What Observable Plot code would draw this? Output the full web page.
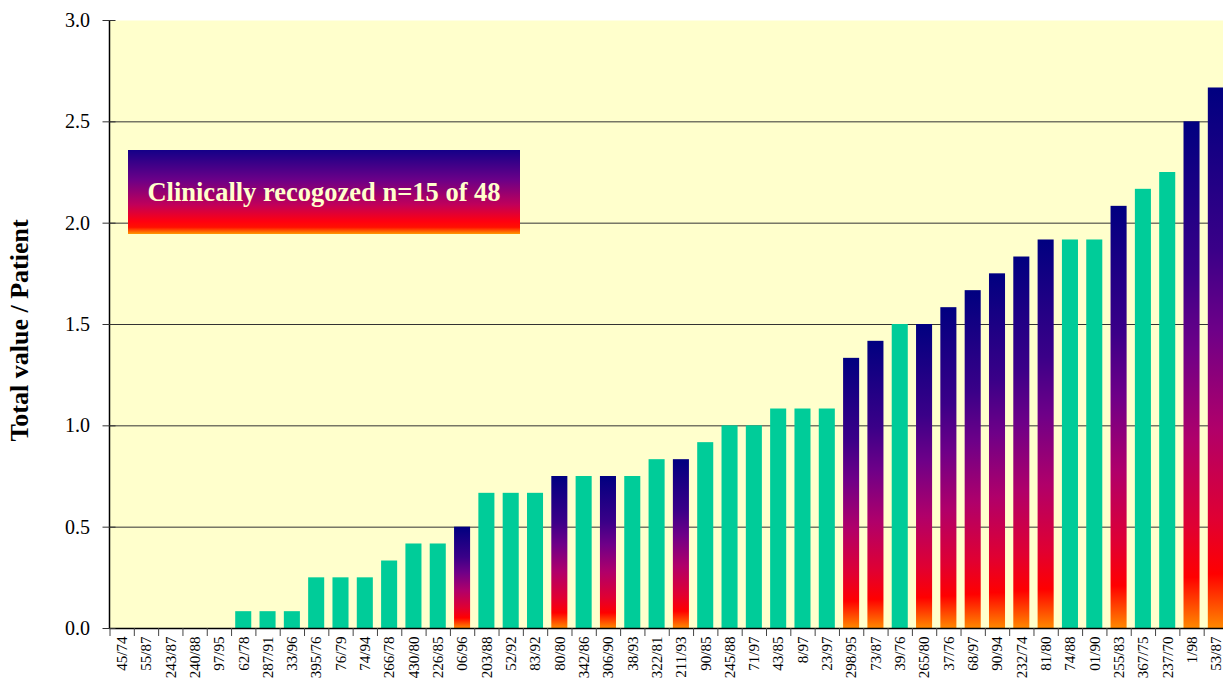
<!DOCTYPE html>
<html><head><meta charset="utf-8">
<script src="https://cdn.jsdelivr.net/npm/d3@7"></script>
<script src="https://cdn.jsdelivr.net/npm/@observablehq/plot@0.6"></script>
<style>
html,body{margin:0;padding:0;background:#fff;overflow:hidden;width:1223px;height:678px}
#wrap{position:relative;width:1228px;height:678px}
#wrap svg{position:absolute;left:0;top:0}
#legend{position:absolute;z-index:2;left:128px;top:150px;width:392px;height:84px;
 background:linear-gradient(to bottom,#140088 0%,#6a0088 35%,#c0005a 65%,#ff0010 85%,#ff1000 92%,#ff9a00 100%);
 display:flex;align-items:center;justify-content:center;color:#FFFFCC;
 font:bold 26.5px "Liberation Serif","Times New Roman",serif;}
</style></head>
<body><div id="wrap"><div id="legend">Clinically recogozed n=15 of 48</div></div>
<script>
const patients = ["45/74","55/87","243/87","240/88","97/95","62/78","287/91","33/96","395/76","76/79",
  "74/94","266/78","430/80","226/85","06/96","203/88","52/92","83/92","80/80","342/86",
  "306/90","38/93","322/81","211/93","90/85","245/88","71/97","43/85","8/97","23/97",
  "298/95","73/87","39/76","265/80","37/76","68/97","90/94","232/74","81/80","74/88",
  "01/90","255/83","367/75","237/70","1/98","53/87"];
const values = [0,0,0,0,0, 0.083,0.083,0.083, 0.25,0.25,
  0.25,0.333,0.417,0.417,0.5, 0.667,0.667,0.667,0.75,0.75,
  0.75,0.75,0.833,0.833,0.917, 1.0,1.0,1.083,1.083,1.083,
  1.333,1.417,1.5,1.5,1.583, 1.667,1.75,1.833,1.917,1.917,
  1.917,2.083,2.167,2.25,2.5, 2.667];
const clinical = [0,0,0,0,0, 0,0,0,0,0,
  0,0,0,0,1, 0,0,0,1,0,
  1,0,0,1,0, 0,0,0,0,0,
  1,1,0,1,1, 1,1,1,1,0,
  0,1,0,0,1, 1];
const yTicks = [0,0.5,1,1.5,2,2.5,3];
const gridTicks = [0.5,1,1.5,2,2.5];
const yLabel = "Total value / Patient";

const W = 1228, ML = 109.5, MR = 0;
const step = (W - ML - MR) / patients.length;
const inset = step * 0.17;
const data = patients.map((p,i)=>({patient:p, value:values[i], clinical:!!clinical[i]}));

function leftAxisLine(index, scales, vals, dims) {
  return d3.create("svg:line")
    .attr("x1", dims.marginLeft).attr("x2", dims.marginLeft)
    .attr("y1", dims.marginTop).attr("y2", dims.height - dims.marginBottom)
    .attr("stroke","black").attr("stroke-width",1.5).node();
}

const chart = Plot.plot({
  width: W, height: 678, marginLeft: ML, marginRight: MR, marginTop: 20, marginBottom: 50,
  style:{fontFamily:'"Liberation Serif","Times New Roman",serif', background:"transparent", overflow:"visible"},
  x:{domain:patients, padding:0, round:false},
  y:{domain:[0,3]},
  marks:[
    Plot.frame({fill:"#FFFFCC", stroke:"none"}),
    Plot.gridY(gridTicks, {stroke:"#333", strokeOpacity:1}),
    Plot.barY(data.filter(d=>!d.clinical), {x:"patient", y:"value", fill:"#00CC99", insetLeft:inset, insetRight:inset}),
    Plot.barY(data.filter(d=>d.clinical), {x:"patient", y:"value", fill:"url(#barGrad)", insetLeft:inset, insetRight:inset}),
    Plot.ruleY([0], {stroke:"black", strokeWidth:1.5}),
    leftAxisLine,
    Plot.axisY(yTicks, {tickSize:13, dx:6, tickFormat:()=>"", stroke:"#333", label:null}),
    Plot.axisY(yTicks, {tickSize:0, tickPadding:20, tickFormat:d3.format(".1f"), fontSize:20, fill:"black", label:null}),
    Plot.axisX({tickSize:8, dx:-step/2, tickFormat:()=>"", stroke:"#444", label:null}),
    Plot.axisX({tickSize:0, tickPadding:8, tickRotate:-90, fontSize:15, fill:"black", label:null}),
    Plot.text([yLabel], {frameAnchor:"left", textAnchor:"middle", dx:-90, dy:6, rotate:-90, fontSize:26, fontWeight:"bold", fill:"black"})
  ]
});

const defs = d3.select(chart).insert("defs", ":first-child");
const g = defs.append("linearGradient").attr("id","barGrad").attr("x1",0).attr("y1",0).attr("x2",0).attr("y2",1);
[[0,"#000080"],[0.3,"#3a0088"],[0.45,"#6e0088"],[0.63,"#b0006a"],[0.8,"#e00032"],[0.9,"#ff0000"],[1,"#ff8800"]]
  .forEach(([o,c])=>g.append("stop").attr("offset",o).attr("stop-color",c));

document.getElementById("wrap").prepend(chart);
</script>
</body></html>
